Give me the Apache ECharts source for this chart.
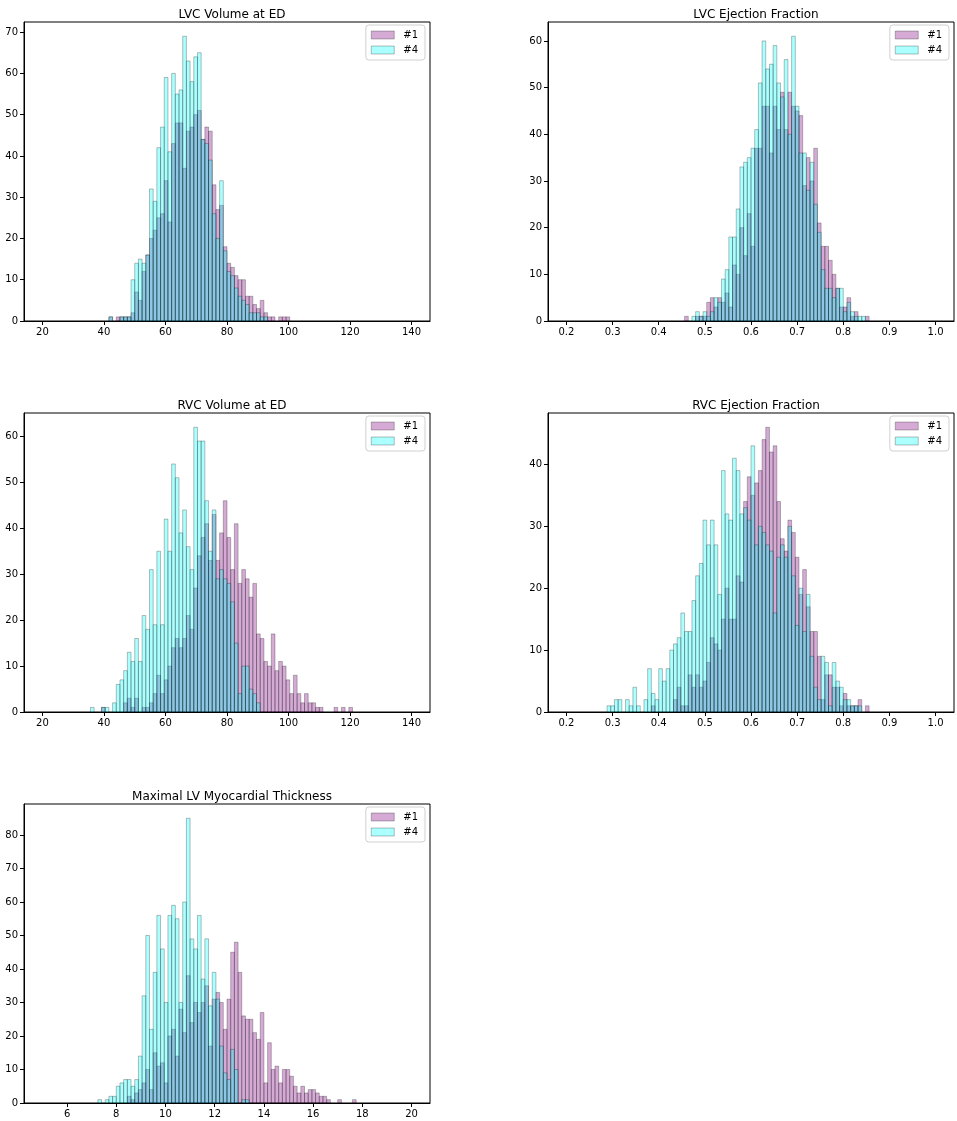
<!DOCTYPE html>
<html>
<head>
<meta charset="utf-8">
<script src="https://cdn.jsdelivr.net/npm/echarts@6/dist/echarts.min.js"></script>
<style>
  html, body { margin: 0; padding: 0; background: #fff; }
  #chart { width: 957px; height: 1121px; }
</style>
</head>
<body>
<div id="chart"></div>
<script>
// every histogram: 100 bins over a fixed range, counts start at the first non-empty bin
const seriesNames = ['#1', '#4']
const binCount = 100

// LVC Volume at ED
const lvcEdvRange = [20, 140]
const lvcEdvFirstBin = 18
const lvcEdv1 = [1, 0, 1, 1, 1, 1, 2, 7, 5, 12, 16, 20, 22, 25, 26, 34, 24, 43, 48, 48, 37, 46, 47, 50, 51, 44, 47, 46, 33, 27, 28, 18, 14, 13, 11, 10, 10, 6, 6, 4, 3, 5, 2, 1, 1, 0, 1, 1, 1]
const lvcEdv4 = [1, 0, 0, 1, 1, 1, 10, 14, 15, 14, 16, 32, 29, 42, 47, 59, 41, 60, 55, 56, 69, 63, 58, 64, 65, 44, 43, 39, 26, 20, 34, 17, 12, 11, 8, 6, 5, 4, 2, 2, 2, 1, 1, 0, 0, 0, 0, 0, 0]
const lvcEdvXTicks = [20, 40, 60, 80, 100, 120, 140]
const lvcEdvYTicks = [0, 10, 20, 30, 40, 50, 60, 70]

// LVC Ejection Fraction
const lvcEfRange = [0.2, 1.0]
const lvcEfFirstBin = 32
const lvcEf1 = [1, 0, 0, 1, 1, 1, 4, 5, 3, 5, 4, 6, 3, 12, 10, 20, 14, 23, 16, 37, 37, 46, 46, 36, 46, 41, 49, 41, 49, 46, 45, 44, 29, 35, 30, 37, 21, 16, 16, 13, 10, 7, 3, 3, 5, 1, 2, 0, 0, 1]
const lvcEf4 = [0, 0, 1, 2, 1, 2, 1, 2, 5, 4, 9, 11, 18, 18, 24, 33, 34, 35, 37, 41, 51, 60, 54, 55, 59, 51, 48, 56, 40, 61, 46, 36, 36, 28, 34, 25, 19, 11, 7, 7, 5, 7, 7, 2, 4, 2, 1, 1, 1, 0]
const lvcEfXTicks = [0.2, 0.3, 0.4, 0.5, 0.6, 0.7, 0.8, 0.9, 1.0]
const lvcEfYTicks = [0, 10, 20, 30, 40, 50, 60]

// RVC Volume at ED
const rvcEdvRange = [20, 140]
const rvcEdvFirstBin = 13
const rvcEdv1 = [0, 0, 0, 1, 0, 0, 0, 0, 0, 2, 3, 1, 3, 0, 1, 1, 2, 4, 8, 4, 7, 10, 14, 16, 14, 16, 21, 18, 27, 34, 38, 41, 33, 43, 33, 39, 46, 38, 31, 41, 28, 31, 29, 25, 28, 17, 16, 11, 10, 17, 9, 11, 10, 7, 4, 8, 4, 2, 4, 2, 2, 1, 1, 0, 0, 0, 1, 0, 1, 0, 1]
const rvcEdv4 = [1, 0, 0, 1, 1, 0, 2, 6, 7, 9, 13, 11, 16, 11, 21, 18, 31, 19, 35, 19, 42, 35, 54, 51, 39, 44, 36, 31, 62, 59, 59, 46, 35, 44, 29, 31, 29, 28, 24, 15, 4, 10, 10, 5, 4, 2, 0, 0, 0, 0, 0, 0, 0, 0, 0, 0, 0, 0, 0, 0, 0, 0, 0, 0, 0, 0, 0, 0, 0, 0, 0]
const rvcEdvXTicks = [20, 40, 60, 80, 100, 120, 140]
const rvcEdvYTicks = [0, 10, 20, 30, 40, 50, 60]

// RVC Ejection Fraction
const rvcEfRange = [0.2, 1.0]
const rvcEfFirstBin = 11
const rvcEf1 = [0, 0, 0, 0, 0, 0, 0, 0, 0, 0, 0, 0, 1, 0, 0, 0, 0, 0, 2, 4, 1, 1, 6, 4, 6, 4, 5, 8, 12, 11, 10, 15, 20, 15, 15, 22, 21, 34, 38, 35, 37, 39, 44, 46, 42, 43, 34, 28, 26, 31, 29, 25, 19, 23, 17, 13, 13, 9, 2, 6, 6, 4, 4, 1, 3, 1, 1, 1, 2, 0, 1]
const rvcEf4 = [1, 1, 2, 2, 0, 2, 1, 4, 1, 0, 2, 7, 3, 2, 7, 5, 7, 10, 11, 12, 16, 13, 13, 18, 22, 24, 31, 27, 31, 27, 19, 39, 32, 31, 41, 39, 32, 33, 31, 43, 27, 30, 29, 27, 26, 16, 25, 27, 25, 30, 22, 14, 20, 13, 19, 9, 4, 2, 9, 8, 1, 8, 5, 4, 2, 2, 1, 1, 1, 0, 0]
const rvcEfXTicks = [0.2, 0.3, 0.4, 0.5, 0.6, 0.7, 0.8, 0.9, 1.0]
const rvcEfYTicks = [0, 10, 20, 30, 40]

// Maximal LV Myocardial Thickness
const lvThickRange = [5, 20]
const lvThickFirstBin = 15
const lvThick1 = [0, 0, 0, 0, 0, 0, 0, 0, 2, 1, 3, 4, 6, 10, 4, 15, 11, 12, 6, 20, 22, 14, 28, 21, 38, 24, 30, 27, 30, 35, 17, 31, 33, 30, 22, 31, 45, 48, 39, 26, 25, 25, 21, 19, 27, 6, 18, 10, 11, 6, 10, 10, 8, 5, 3, 5, 3, 4, 4, 3, 2, 2, 1, 0, 0, 1, 0, 0, 0, 1]
const lvThick4 = [1, 0, 1, 2, 2, 5, 6, 7, 7, 5, 7, 14, 32, 50, 22, 39, 56, 46, 30, 56, 59, 55, 30, 60, 85, 49, 46, 56, 37, 49, 29, 39, 31, 17, 9, 7, 16, 10, 0, 1, 1, 0, 0, 0, 0, 0, 0, 0, 0, 0, 0, 0, 0, 0, 0, 0, 0, 0, 0, 0, 0, 0, 0, 0, 0, 0, 0, 0, 0, 0]
const lvThickXTicks = [6, 8, 10, 12, 14, 16, 18, 20]
const lvThickYTicks = [0, 10, 20, 30, 40, 50, 60, 70, 80]

const panels = [
  { title: 'LVC Volume at ED', range: lvcEdvRange, first: lvcEdvFirstBin, counts: [lvcEdv1, lvcEdv4], xTicks: lvcEdvXTicks, yTicks: lvcEdvYTicks, digits: 0 },
  { title: 'LVC Ejection Fraction', range: lvcEfRange, first: lvcEfFirstBin, counts: [lvcEf1, lvcEf4], xTicks: lvcEfXTicks, yTicks: lvcEfYTicks, digits: 1 },
  { title: 'RVC Volume at ED', range: rvcEdvRange, first: rvcEdvFirstBin, counts: [rvcEdv1, rvcEdv4], xTicks: rvcEdvXTicks, yTicks: rvcEdvYTicks, digits: 0 },
  { title: 'RVC Ejection Fraction', range: rvcEfRange, first: rvcEfFirstBin, counts: [rvcEf1, rvcEf4], xTicks: rvcEfXTicks, yTicks: rvcEfYTicks, digits: 1 },
  { title: 'Maximal LV Myocardial Thickness', range: lvThickRange, first: lvThickFirstBin, counts: [lvThick1, lvThick4], xTicks: lvThickXTicks, yTicks: lvThickYTicks, digits: 0 }
]

// matplotlib-ish look: purple / cyan with alpha, dark thin edges
const font = 'DejaVu Sans'
const fills = ['rgba(128,0,128,0.33)', 'rgba(0,255,255,0.33)']
const edge = 'rgba(0,0,0,0.33)'
const plotW = 406
const plotH = 299
const colLeft = [24, 548]
const rowTop = [22, 413, 804]

const makeRender = (binWidth, fill) => (params, api) => {
  const x0 = api.value(0)
  const p0 = api.coord([x0, api.value(1)])
  const p1 = api.coord([x0 + binWidth, 0])
  return {
    type: 'rect',
    shape: { x: p0[0], y: p0[1], width: p1[0] - p0[0], height: p1[1] - p0[1] },
    style: { fill, stroke: edge, lineWidth: 0.8 }
  }
}

const grid = []
const xAxis = []
const yAxis = []
const title = []
const legend = []
const series = []

panels.forEach((p, i) => {
  const left = colLeft[i % 2]
  const top = rowTop[Math.floor(i / 2)]
  const [lo, hi] = p.range
  const binWidth = (hi - lo) / binCount
  const pad = (hi - lo) * 0.05
  const yMax = Math.max(...p.counts[0], ...p.counts[1]) * 1.05

  grid.push({ left, top, width: plotW, height: plotH, show: true, borderColor: '#000', borderWidth: 1, backgroundColor: 'transparent' })

  xAxis.push({
    type: 'value',
    gridIndex: i,
    min: lo - pad,
    max: hi + pad,
    splitLine: { show: false },
    axisLine: { show: true, onZero: false, lineStyle: { color: '#000', width: 1 } },
    axisTick: { show: true, inside: false, length: 4, customValues: p.xTicks, lineStyle: { color: '#000' } },
    axisLabel: {
      customValues: p.xTicks,
      margin: 6,
      fontFamily: font,
      fontSize: 10,
      color: '#000',
      formatter: v => Number(v).toFixed(p.digits)
    }
  })

  yAxis.push({
    type: 'value',
    gridIndex: i,
    min: 0,
    max: yMax,
    splitLine: { show: false },
    axisLine: { show: true, lineStyle: { color: '#000', width: 1 } },
    axisTick: { show: true, inside: false, length: 4, customValues: p.yTicks, lineStyle: { color: '#000' } },
    axisLabel: { customValues: p.yTicks, margin: 6, fontFamily: font, fontSize: 10, color: '#000' }
  })

  title.push({
    text: p.title,
    left: left + plotW / 2,
    top: top - 18,
    textAlign: 'center',
    textStyle: { fontFamily: font, fontSize: 12, fontWeight: 'normal', color: '#000' }
  })

  legend.push({
    orient: 'vertical',
    right: 957 - (left + plotW - 5),
    top: top + 3,
    itemWidth: 23,
    itemHeight: 8,
    itemGap: 5,
    padding: [5, 7, 5, 5],
    borderColor: '#d0d0d0',
    borderWidth: 1,
    borderRadius: 3,
    backgroundColor: 'rgba(255,255,255,0.8)',
    selectedMode: false,
    textStyle: { fontFamily: font, fontSize: 10, color: '#000', padding: [0, 0, 0, 4] },
    data: seriesNames.map((name, s) => ({
      name,
      icon: 'rect',
      itemStyle: { color: fills[s], borderColor: edge, borderWidth: 0.8 }
    }))
  })

  p.counts.forEach((counts, s) => {
    series.push({
      type: 'custom',
      name: seriesNames[s],
      xAxisIndex: i,
      yAxisIndex: i,
      clip: true,
      itemStyle: { color: fills[s] },
      encode: { x: 0, y: 1 },
      renderItem: makeRender(binWidth, fills[s]),
      data: counts
        .map((c, j) => [lo + (p.first + j) * binWidth, c])
        .filter(d => d[1] > 0)
    })
  })
})

const myChart = echarts.init(document.getElementById('chart'), null, { renderer: 'canvas' })
myChart.setOption({
  animation: false,
  backgroundColor: '#fff',
  title,
  legend,
  grid,
  xAxis,
  yAxis,
  series
})
</script>
</body>
</html>
